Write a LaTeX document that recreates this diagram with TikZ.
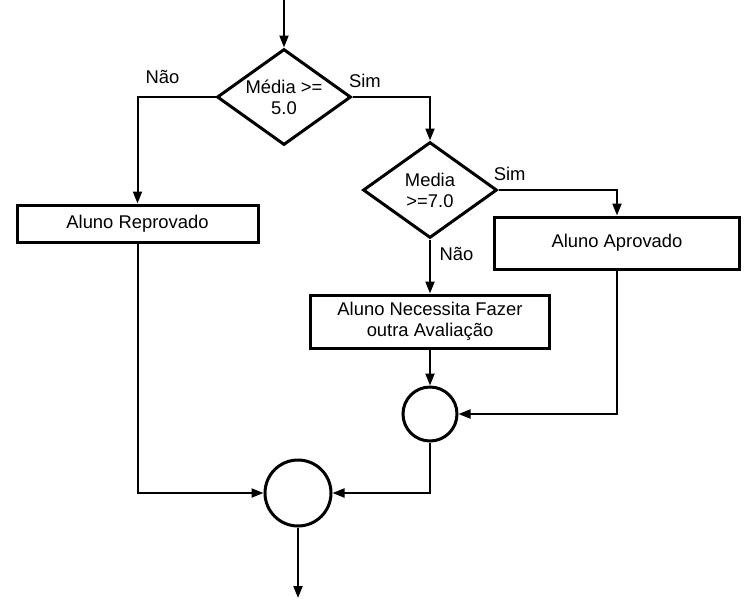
\documentclass[tikz,border=0pt]{standalone}
\usepackage{fontspec}
\setmainfont{Liberation Sans}
\usetikzlibrary{shapes.geometric,arrows.meta,positioning}

\begin{document}
\begin{tikzpicture}[node distance=2cm,on grid,
	>={Triangle[length=6pt,width=4.5pt]},
	every node/.style={font=\fontsize{9.2pt}{10.5pt}\selectfont},
	decision/.style={diamond,draw,line width=1.5pt,inner sep=0pt,shape aspect=1.37,
		minimum width=67pt,minimum height=48pt,align=center},
	process/.style={rectangle,draw,line width=1.5pt,inner sep=2pt,align=center},
	junction/.style={circle,draw,line width=1.5pt,inner sep=0pt},
	flow/.style={->,line width=1pt}]
	\useasboundingbox (0,0) rectangle (373pt,-301pt);
	\node[decision] (d1) at (142pt,-48.5pt) {Média >=\\5.0};
	\node[decision,below right=46.5pt and 73pt of d1] (d2) {Media\\>=7.0};
	\node[process,below left=63.25pt and 73.25pt of d1,minimum width=120.5pt,minimum height=18.5pt] (rep) {Aluno Reprovado};
	\node[process,below right=26.5pt and 93.5pt of d2,minimum width=122.5pt,minimum height=26pt] (apr) {Aluno Aprovado};
	\node[process,below=65.75pt of d2,minimum width=119.5pt,minimum height=26.5pt] (nec) {Aluno Necessita Fazer\\outra Avaliação};
	\node[junction,below=46.25pt of nec,minimum size=27pt] (j1) {};
	\node[junction,below left=39.5pt and 66pt of j1,minimum size=33pt] (j2) {};
	\coordinate[above=48.5pt of d1] (in);
	\coordinate[below=52.5pt of j2] (out);
	\draw[flow] (in) -- (d1);
	\draw[flow] (d1.west) -| node[above=3pt,pos=0.34] {Não} (rep.north);
	\draw[flow] (d1.east) -| node[above=1pt,pos=0.08] {Sim} (d2.north);
	\draw[flow] (d2.east) -| node[above=1pt,pos=0.047] {Sim} (apr.north);
	\draw[flow] (d2) -- node[right=1pt,pos=0.26] {Não} (nec);
	\draw[flow] (nec) -- (j1);
	\draw[flow] (apr.south) |- (j1.east);
	\draw[flow] (j1.south) |- (j2.east);
	\draw[flow] (rep.south) |- (j2.west);
	\draw[flow] (j2) -- (out);
\end{tikzpicture}
\end{document}
